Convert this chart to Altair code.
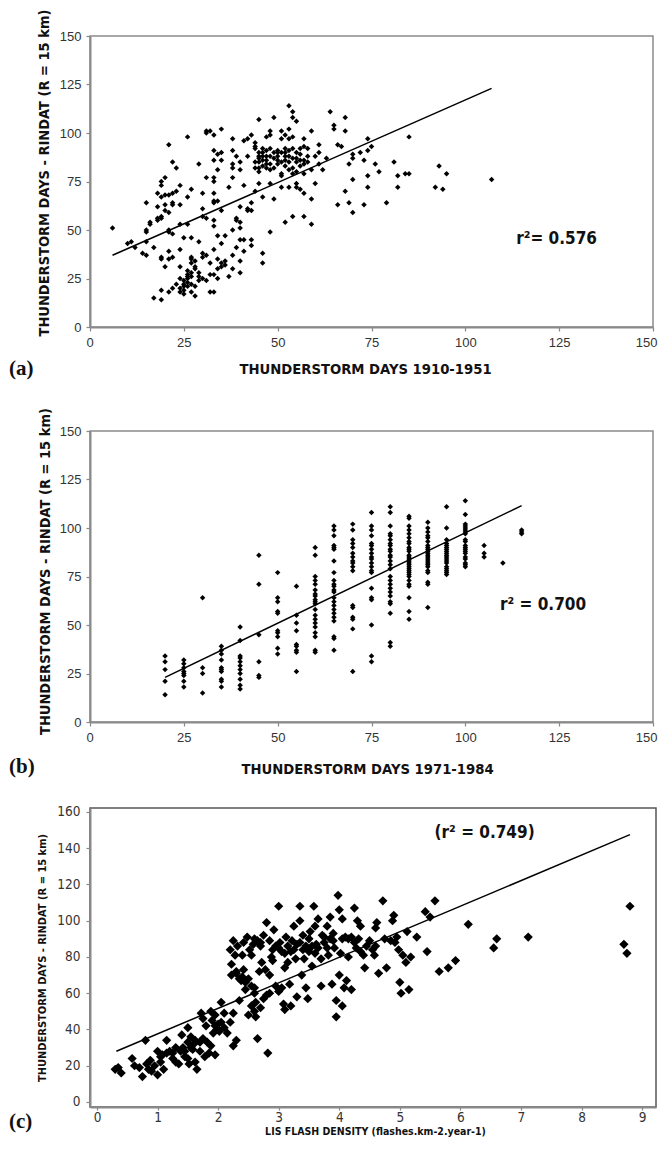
import altair as alt
import pandas as pd

# ---------------- data ----------------
A_PTS = [
 (6,51),(10,43),(11,44),(12,41),(14,38),(15,37),(15,44),(15,49),(15,50),(15,64),(16,53),(16,54),(17,41),(17,15),
 (18,55),(18,56),(18,62),(18,69),(19,57),(19,56),(19,67),(19,73),(19,75),(19,35),(19,36),(19,19),(19,14),
 (20,77),(20,68),(20,63),(20,60),(20,31),(21,94),(21,68),(21,59),(21,50),(21,49),(21,39),(21,35),(21,18),
 (22,85),(22,69),(22,64),(22,63),(22,48),(22,36),(22,20),(23,82),(23,70),(23,22),(24,73),(24,63),(24,53),
 (24,40),(24,31),(24,25),(24,20),(24,18),(25,46),(25,24),(25,22),(25,21),(25,19),(25,17),(26,98),(26,67),
 (26,53),(26,29),(26,27),(26,26),(26,25),(26,23),(26,21),(27,71),(27,46),(27,36),(27,35),(27,33),(27,28),
 (27,26),(27,22),(27,18),(28,34),(28,31),(28,30),(28,21),(28,16),(29,84),(29,44),(29,28),(29,26),(29,24),
 (30,69),(30,61),(30,57),(30,38),(30,36),(30,25),(31,101),(31,100),(31,77),(31,56),(31,37),(31,24),(32,101),
 (32,33),(32,27),(32,18),(33,99),(33,91),(33,86),(33,77),(33,75),(33,69),(33,65),(33,64),(33,55),(33,52),
 (33,40),(33,27),(33,18),(34,89),(34,81),(34,65),(34,47),(34,35),(34,30),(34,25),(35,102),(35,90),(35,86),
 (35,60),(35,43),(35,33),(35,31),(36,47),(36,34),(36,32),(37,72),(37,26),(38,97),(38,91),(38,84),(38,82),
 (38,77),(38,50),(38,37),(38,30),(39,88),(39,56),(39,55),(39,41),(40,85),(40,81),(40,62),(40,54),(40,51),
 (40,45),(40,34),(40,28),(41,96),(41,73),(41,45),(41,39),(42,97),(42,88),(42,61),(42,60),(43,99),(43,64),
 (43,60),(43,45),(43,42),(44,95),(44,93),(44,92),(44,82),(44,70),(45,107),(45,90),(45,87),(45,85),(45,82),
 (45,80),(45,74),(46,92),(46,90),(46,88),(46,83),(46,67),(46,38),(46,33),(47,98),(47,91),(47,88),(47,86),
 (47,82),(48,101),(48,99),(48,92),(48,84),(48,81),(48,74),(48,49),(49,108),(49,90),(49,82),(49,66),(50,91),
 (50,88),(50,86),(51,101),(51,97),(51,90),(51,85),(51,79),(51,78),(51,72),(52,99),(52,92),(52,90),(52,86),
 (52,83),(52,54),(53,114),(53,102),(53,97),(53,91),(53,88),(53,81),(53,72),(54,111),(54,108),(54,98),
 (54,92),(54,87),(54,82),(54,79),(54,57),(55,106),(55,90),(55,87),(55,85),(55,74),(55,72),(56,92),(56,89),
 (56,83),(56,71),(57,97),(57,93),(57,86),(57,84),(57,79),(57,69),(57,57),(58,92),(58,88),(58,85),(59,101),
 (59,81),(59,66),(59,53),(60,88),(60,74),(61,94),(61,90),(61,84),(62,81),(63,87),(64,111),(65,104),(65,102),
 (66,94),(66,63),(67,93),(68,108),(68,101),(68,70),(69,84),(69,64),(70,89),(70,87),(70,76),(70,59),(72,90),
 (73,86),(73,63),(74,97),(74,91),(74,78),(74,72),(75,93),(76,84),(77,80),(79,64),(81,85),(82,78),(82,72),
 (84,79),(85,98),(85,79),(92,72),(93,83),(94,71),(95,79),(107,76),
 (44,85),(45,88),(46,86),(47,84),(49,87),(50,84),(52,88),(53,85),(55,80),(56,86),(48,88),(50,90),
]
A_FIT_X = [6, 107]
A_FIT_Y = [37, 123]

B_COLUMNS = {
 20: [34,31,27,21,14],
 25: [32,30,28,26,25,24,21,18],
 30: [64,28,25,15],
 35: [39,37,35,32,28,27,26,22,21,18],
 40: [49,42,34,33,31,29,27,25,22,19,17],
 45: [86,71,45,31,24,23],
 50: [77,64,62,57,56,47,46,44,38,35],
 55: [70,55,51,47,40,39,37,36,26],
 60: [90,86,75,73,71,68,66,65,63,62,61,58,55,53,51,49,46,44,37,36],
 65: [101,99,96,91,90,89,83,77,73,71,70,68,67,64,62,60,58,56,54,52,44,43,37],
 70: [102,99,94,92,90,87,85,83,82,80,78,60,59,54,53,48,26],
 75: [108,101,99,96,92,91,89,87,85,84,82,80,78,77,69,64,63,50,34,31],
 80: [111,108,101,97,96,94,92,91,89,88,86,85,83,81,79,75,73,71,69,67,65,62,61,56,41,39],
 85: [106,105,101,99,97,95,93,92,90,89,88,86,85,84,83,82,81,80,79,78,77,76,75,73,71,70,64,57,53],
 90: [103,100,98,96,95,93,91,90,89,88,87,86,85,84,83,82,81,80,78,77,72,71,59],
 95: [111,100,94,92,91,90,89,88,87,86,85,84,83,82,80,79,78,77,76],
 100: [114,107,102,101,100,99,98,97,94,93,91,90,89,88,87,85,84,82,81,80],
 105: [91,87,85],
 110: [82],
 115: [99,98,97],
}
B_FIT_X = [20, 115]
B_FIT_Y = [23, 111.5]

C_PTS = [
 (0.3,18),(0.35,19),(0.4,16),(0.58,24),(0.62,20),(0.7,19),(0.75,14),(0.8,34),(0.82,21),(0.85,18),(0.88,23),
 (0.9,17),(0.95,20),(1.0,15),(1.0,28),(1.05,25),(1.08,26),(1.1,18),(1.15,34),(1.15,27),(1.2,28),(1.25,24),
 (1.3,22),(1.3,30),(1.35,21),(1.38,28),(1.4,37),(1.42,30),(1.45,25),(1.5,41),(1.5,33),(1.5,24),(1.52,21),
 (1.55,36),(1.58,29),(1.6,32),(1.62,34),(1.62,22),(1.65,18),(1.7,28),(1.72,49),(1.75,46),(1.75,35),(1.78,25),
 (1.8,42),(1.82,33),(1.85,27),(1.88,31),(1.88,50),(1.9,45),(1.92,38),(1.95,48),(1.95,26),(1.98,40),(2.0,43),
 (2.02,39),(2.05,55),(2.05,44),(2.1,41),(2.15,38),(2.2,84),(2.2,44),(2.22,76),(2.22,70),(2.25,89),(2.25,31),
 (2.25,49),(2.28,81),(2.3,71),(2.3,34),(2.32,86),(2.35,56),(2.35,68),(2.38,67),(2.4,81),(2.42,88),(2.42,73),
 (2.45,62),(2.45,66),(2.48,91),(2.5,48),(2.5,68),(2.52,84),(2.55,81),(2.55,53),(2.58,87),(2.6,63),(2.6,50),
 (2.62,55),(2.62,47),(2.65,89),(2.65,35),(2.68,72),(2.7,86),(2.7,52),(2.72,77),(2.75,92),(2.75,57),(2.78,73),
 (2.8,99),(2.8,59),(2.82,27),(2.85,70),(2.85,89),(2.88,80),(2.9,84),(2.92,95),(2.95,64),(2.95,86),(3.0,108),
 (3.0,61),(3.02,88),(3.05,83),(3.08,54),(3.1,74),(3.1,51),(3.12,91),(3.15,77),(3.18,65),(3.2,83),(3.2,53),
 (3.22,89),(3.25,97),(3.28,79),(3.3,87),(3.3,58),(3.35,108),(3.35,100),(3.38,70),(3.4,92),(3.42,79),(3.45,63),
 (3.45,86),(3.48,57),(3.5,83),(3.52,94),(3.55,75),(3.58,108),(3.6,97),(3.62,87),(3.65,101),(3.7,79),(3.7,64),
 (3.72,92),(3.75,88),(3.8,97),(3.82,81),(3.85,102),(3.88,65),(3.9,93),(3.92,85),(3.95,47),(3.95,56),(3.98,114),
 (4.0,106),(4.0,70),(4.02,82),(4.05,53),(4.05,101),(4.08,63),(4.1,91),(4.12,67),(4.15,80),(4.2,91),(4.2,62),
 (4.25,107),(4.28,85),(4.3,100),(4.32,90),(4.35,97),(4.4,81),(4.42,74),(4.5,89),(4.55,84),(4.58,81),(4.6,96),
 (4.62,99),(4.65,71),(4.72,111),(4.78,74),(4.85,89),(4.88,100),(4.9,103),(4.92,88),(4.95,91),(4.98,84),(5.0,66),
 (5.02,60),(5.05,81),(5.1,77),(5.12,94),(5.15,62),(5.18,80),(5.28,91),(5.42,105),(5.45,83),(5.5,102),(5.58,111),
 (5.65,72),(5.8,74),(5.92,78),(6.13,98),(6.55,85),(6.6,90),(7.12,91),(8.7,87),(8.75,82),(8.8,108),
 (2.6,90),(2.7,88),(2.9,78),(3.0,85),(3.1,82),(3.15,86),(3.25,84),(3.35,88),(3.4,84),(3.5,90),(3.55,86),
 (3.6,82),(3.65,85),(3.75,91),(3.8,85),(3.85,90),(3.9,89),(4.05,90),(4.15,90),(4.25,88),(4.35,83),(4.45,86),
 (4.6,86),(4.75,90),(2.4,69),(2.3,72),(2.55,64),(2.6,60),(2.85,60),(3.05,63),(1.95,42),(2.1,49),(1.7,33),
 (1.55,30),(1.45,28),(1.25,27),(1.05,22),
]
C_FIT_X = [0.32, 8.8]
C_FIT_Y = [28, 147.5]

A_TICKS = [0, 25, 50, 75, 100, 125, 150]
C_XTICKS = [0, 1, 2, 3, 4, 5, 6, 7, 8, 9]
C_YTICKS = [0, 20, 40, 60, 80, 100, 120, 140, 160]

R2_TEXT = ["r\u00b2= 0.576", "r\u00b2 = 0.700", "(r\u00b2 = 0.749)"]
R2_POS = [(124.3, 45.4), (120.7, 60.3), (6.40, 148.4)]
X_TITLES = ["THUNDERSTORM DAYS 1910-1951", "THUNDERSTORM DAYS 1971-1984",
            "LIS FLASH DENSITY (flashes.km-2.year-1)"]
Y_TITLE = "THUNDERSTORM DAYS - RINDAT (R = 15 km)"
PANEL_LABELS = ["(a)", "(b)", "(c)"]

# ---------------- styles ----------------
NARROW = "Liberation Sans Narrow, Arial Narrow, Liberation Sans, sans-serif"
COND = "DejaVu Sans Condensed, DejaVu Sans, sans-serif"
SERIF = "Liberation Serif, Times New Roman, serif"

a_df = pd.DataFrame(A_PTS, columns=["x", "y"])
b_df = pd.DataFrame([(k, v) for k, vs in B_COLUMNS.items() for v in vs], columns=["x", "y"])
c_df = pd.DataFrame(C_PTS, columns=["x", "y"])


def panel(df, fx, fy, xdom, ydom, xt, yt, w, h, idx, msize, lab_font, lab_size,
          tick, xpad, ypad, xtitle_size, ytitle_size, title_xy, ytitle_xy, label_xy, frame, flush):
    xs = alt.Scale(domain=xdom, nice=False, zero=False)
    ys = alt.Scale(domain=ydom, nice=False, zero=False)
    common = dict(grid=False, labelOverlap=False, format="d",
                  labelFont=lab_font, labelFontSize=lab_size, labelColor="#333",
                  tickColor="#888", tickWidth=1.2,
                  domainColor="#8a8a8a", domainWidth=2,
                  titleFont=COND, titleFontWeight="bold", titleColor="#111",
                  titleBaseline="middle", titleAlign="center")
    xflush = dict(labelFlush=True, labelFlushOffset=4) if flush else dict(labelFlush=False)
    xaxis = alt.Axis(values=xt, title=X_TITLES[idx], titleFontSize=xtitle_size, labelPadding=xpad,
                     tickSize=tick[0], titleX=title_xy[0], titleY=title_xy[1], **xflush, **common)
    yaxis = alt.Axis(values=yt, title=Y_TITLE, titleFontSize=ytitle_size, labelPadding=ypad,
                     tickSize=tick[1], labelFlush=False, titleX=ytitle_xy[0], titleY=ytitle_xy[1],
                     titleAngle=270, **common)
    X = alt.X("x:Q", scale=xs, axis=xaxis)
    Y = alt.Y("y:Q", scale=ys, axis=yaxis)
    pts = alt.Chart(df).mark_point(shape="diamond", filled=True, color="black", opacity=1,
                                   size=msize).encode(x=X, y=Y)
    fit = alt.Chart(pd.DataFrame({"x": fx, "y": fy})).mark_line(
        color="black", strokeWidth=1.5).encode(x=X, y=Y)
    r2 = alt.Chart(pd.DataFrame({"x": [R2_POS[idx][0]], "y": [R2_POS[idx][1]], "t": [R2_TEXT[idx]]})
                   ).mark_text(font=COND, fontSize=17, fontWeight="bold", color="#111",
                               align="center", baseline="middle").encode(x=X, y=Y, text="t:N")
    lab = alt.Chart(pd.DataFrame({"t": [PANEL_LABELS[idx]]})).mark_text(
        font=SERIF, fontSize=21, fontWeight="bold", color="#111", align="left", baseline="middle").encode(
        x=alt.value(label_xy[0]), y=alt.value(label_xy[1]), text="t:N")
    return alt.layer(pts, fit, r2, lab).properties(
        width=w, height=h, view=alt.ViewBackground(stroke=frame, strokeWidth=1.5))


pa = panel(a_df, A_FIT_X, A_FIT_Y, [0, 150], [0, 150], A_TICKS, A_TICKS, 563, 291, 0, 30,
           NARROW, 13, (4, 4), 5, 5, 14.7, 14.5, (275, 42), (-46, 136.5), (-81, 333), "#8a8a8a", True)
pb = panel(b_df, B_FIT_X, B_FIT_Y, [0, 150], [0, 150], A_TICKS, A_TICKS, 563, 291, 1, 30,
           NARROW, 13, (4, 4), 5, 5, 14.7, 14.5, (277, 47), (-45, 140), (-81, 336), "#8a8a8a", True)
pc = panel(c_df, C_FIT_X, C_FIT_Y, [-0.1156, 9.23], [-2.76, 162.2], C_XTICKS, C_YTICKS, 566, 299, 2, 85,
           COND, 13.5, (3, 4), 0, 6, 10.5, 11, (285, 24.5), (-48, 149.5), (-81, 314), "#555", False)

inner = alt.concat(pb, pc, columns=1, align="none", spacing=26)
chart = alt.concat(pa, inner, columns=1, align="none", spacing=26).properties(
    padding={"left": 0, "top": 0, "right": 0, "bottom": 0})
chart.save("out.html", embed_options={"renderer": "svg", "actions": False})
